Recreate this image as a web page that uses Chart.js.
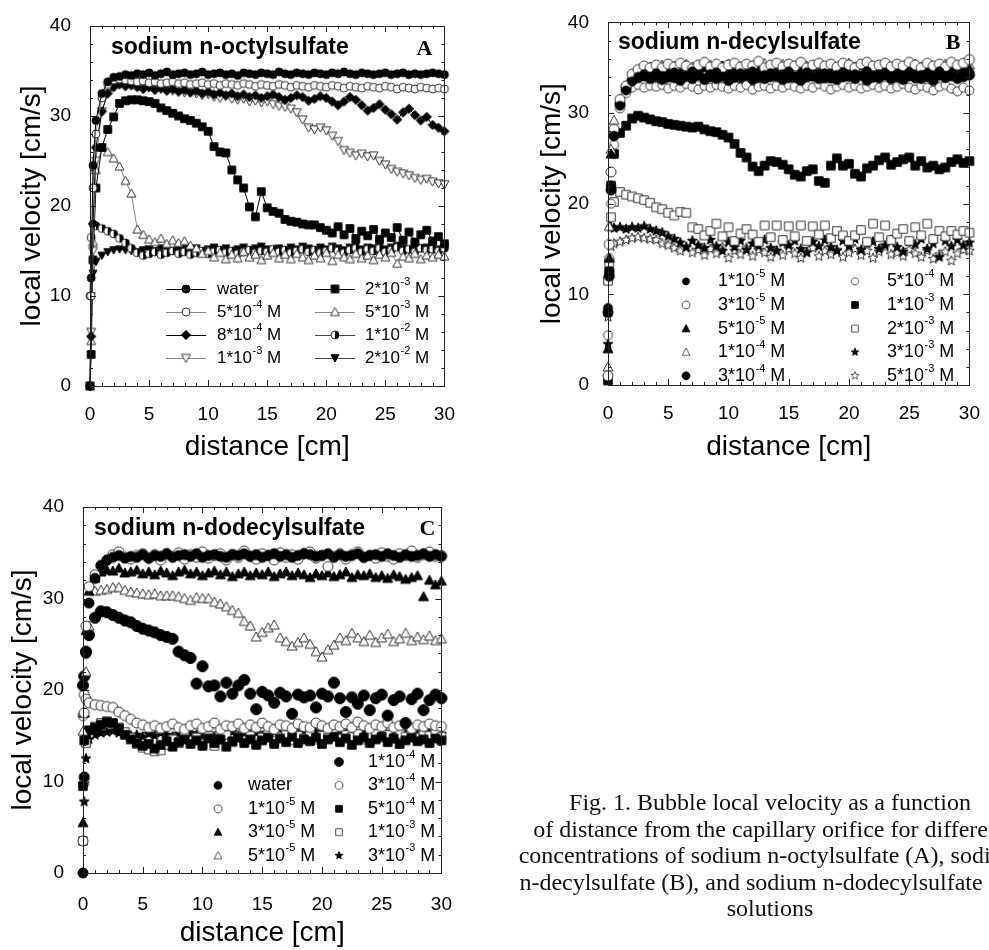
<!DOCTYPE html>
<html>
<head>
<meta charset="utf-8">
<script src="https://cdn.jsdelivr.net/npm/chart.js@4.4.1/dist/chart.umd.min.js"></script>
<style>
  html, body { margin: 0; padding: 0; background: #fff; }
  body { width: 989px; height: 950px; position: relative; overflow: hidden; }
  canvas { position: absolute; }
  #chartA { left: 0; top: 0; }
  #chartB { left: 518px; top: 0; }
  #chartC { left: 0; top: 480px; }
  #caption {
    position: absolute; left: 420px; top: 789px; width: 700px;
    text-align: center; white-space: nowrap; color: #111;
    font: 24px "Liberation Serif", "Times New Roman", serif; line-height: 26.5px;
  }
</style>
</head>
<body>
<canvas id="chartA" width="464" height="470"></canvas>
<canvas id="chartB" width="471" height="470"></canvas>
<canvas id="chartC" width="464" height="470"></canvas>
<div id="caption">Fig. 1. Bubble local velocity as a function<br>of distance from the capillary orifice for different<br>concentrations of sodium n-octylsulfate (A), sodium<br>n-decylsulfate (B), and sodium n-dodecylsulfate (C)<br>solutions</div>
<script>
// x positions shared by all panels (cm)
const distance = [0, 0.1, 0.25, 0.5, 1, 1.5, 2, 2.5, 3, 3.5,
  4, 4.5, 5, 5.5, 6, 6.5, 7, 7.5, 8, 8.5,
  9, 9.5, 10, 10.5, 11, 11.5, 12, 12.5, 13, 13.5,
  14, 14.5, 15, 15.5, 16, 16.5, 17, 17.5, 18, 18.5,
  19, 19.5, 20, 20.5, 21, 21.5, 22, 22.5, 23, 23.5,
  24, 24.5, 25, 25.5, 26, 26.5, 27, 27.5, 28, 28.5,
  29, 29.5, 30];

const xTickValues = [0, 5, 10, 15, 20, 25, 30];
const yTickValues = [0, 10, 20, 30, 40];
const xTitle = 'distance [cm]';
const yTitle = 'local velocity [cm/s]';

// ---- panel A: sodium n-octylsulfate ----
const labelsA = ['water', '5*10^-4 M', '8*10^-4 M', '1*10^-3 M', '2*10^-3 M', '5*10^-3 M', '1*10^-2 M', '2*10^-2 M'];
const aWater = [0, 12, 24.5, 29.5, 32.5, 33.8, 34.3, 34.4, 34.6, 34.5,
  34.7, 34.6, 34.8, 34.5, 34.7, 34.9, 34.6, 34.7, 34.8, 34.6,
  34.7, 34.9, 34.6, 34.7, 34.8, 34.6, 34.7, 34.5, 34.8, 34.7,
  34.6, 34.8, 34.7, 34.6, 34.9, 34.7, 34.6, 34.8, 34.7, 34.6,
  34.8, 34.7, 34.6, 34.8, 34.7, 34.9, 34.7, 34.6, 34.8, 34.7,
  34.6, 34.7, 34.8, 34.6, 34.7, 34.8, 34.6, 34.7, 34.6, 34.7,
  34.8, 34.7, 34.6];
const a5e4 = [0, 10, 22, 28, 32, 33.5, 34, 34.1, 34.0, 33.9,
  33.8, 33.9, 33.7, 33.8, 33.6, 33.7, 33.8, 33.6, 33.7, 33.5,
  33.6, 33.7, 33.5, 33.6, 33.4, 33.6, 33.5, 33.4, 33.6, 33.5,
  33.3, 33.5, 33.4, 33.3, 33.5, 33.4, 33.2, 33.4, 33.3, 33.2,
  33.4, 33.3, 33.2, 33.4, 33.3, 33.1, 33.3, 33.2, 33.1, 33.3,
  33.2, 33.1, 33.3, 33.2, 33.0, 33.2, 33.1, 33.0, 33.2, 33.1,
  33.0, 33.1, 33.0];
const a8e4 = [0, 5.5, 18, 26.5, 30.5, 32.5, 33.2, 33.5, 33.3, 33.4,
  33.2, 33.0, 33.2, 32.9, 33.1, 32.8, 33.0, 32.7, 32.9, 32.6,
  32.8, 32.5, 32.7, 32.4, 32.6, 32.3, 32.5, 32.2, 32.4, 32.1,
  32.3, 32.0, 32.2, 32.4, 32.1, 31.8, 32.0, 32.3, 32.1, 31.7,
  31.9, 32.2, 32.0, 31.6, 31.2, 31.6, 32.1, 31.8, 31.2, 30.6,
  30.9, 31.3, 30.7, 30.2, 29.6, 30.4, 30.8, 30.1, 29.5, 29.9,
  29.0, 28.7, 28.3];
const a1e3 = [0, 6, 15, 25, 30.5, 32.5, 33.3, 33.6, 33.8, 33.7,
  33.5, 33.4, 33.2, 33.3, 33.0, 32.9, 32.8, 32.9, 32.6, 32.7,
  32.5, 32.3, 32.4, 32.1, 32.0, 32.2, 31.9, 31.8, 31.9, 31.6,
  31.7, 31.5, 31.6, 31.3, 31.1, 31.0, 30.8, 30.4, 29.6, 28.7,
  28.5, 28.7, 28.4, 27.8, 27.2, 26.2, 25.9, 25.6, 25.8, 25.5,
  25.6, 25.0, 24.6, 24.1, 23.8, 23.6, 23.4, 23.1, 22.9, 23.0,
  22.7, 22.5, 22.4];
const a2e3 = [0, 3.5, 14, 22, 26.5, 28.5, 29.9, 31.4, 31.7, 31.8,
  31.8, 31.7, 31.6, 31.4, 30.9, 30.6, 30.3, 30.0, 29.7, 29.5,
  29.2, 28.8, 28.3, 26.6, 26.0, 25.9, 24.0, 22.9, 22.0, 19.9,
  18.8, 21.6, 19.8, 19.4, 19.2, 18.5, 18.3, 18.2, 18.0, 17.9,
  17.9, 17.6, 17.3, 17.0, 17.7, 16.8, 17.5, 16.4, 17.2, 16.7,
  17.4, 16.3, 17.0, 16.5, 17.6, 16.2, 17.1, 16.0, 16.8, 17.3,
  16.1, 16.6, 15.8];
const a5e3 = [0, 5, 16, 24, 26.5, 26.0, 25.3, 24.4, 22.8, 21.4,
  17.4, 16.8, 16.3, 16.0, 16.4, 15.8, 16.2, 15.9, 16.1, 15.6,
  15.3, 14.7, 15.0, 14.3, 14.8, 14.1, 14.6, 14.2, 14.9, 14.3,
  14.6, 14.0, 14.5, 14.8, 14.2, 14.6, 14.1, 14.7, 14.3, 14.0,
  14.5, 14.2, 14.8, 13.9, 14.6, 14.3, 14.1, 14.7, 14.2, 14.5,
  14.0, 14.6, 14.3, 14.8, 13.6, 14.4, 14.2, 14.7, 14.1, 14.5,
  14.3, 14.6, 14.4];
const a1e2 = [10, 16.5, 18.0, 17.8, 17.5, 17.2, 16.9, 16.4, 15.9, 15.3,
  14.8, 14.5, 14.7, 14.9, 14.6, 14.8, 15.0, 14.7, 14.9, 14.6,
  14.8, 15.0, 14.7, 14.9, 15.1, 14.8, 15.0, 14.7, 14.9, 15.1,
  14.8, 15.0, 14.9, 15.2, 14.9, 15.1, 14.8, 15.0, 15.2, 14.9,
  15.1, 14.8, 15.0, 15.3, 15.0, 14.8, 15.1, 15.3, 14.9, 15.2,
  15.0, 15.3, 14.9, 15.1, 15.4, 15.0, 15.2, 14.9, 15.3, 15.1,
  15.2, 15.0, 15.3];
const a2e2 = [0, 10, 12.5, 13.8, 14.5, 14.9, 15.1, 15.2, 15.1, 15.0,
  14.9, 15.1, 15.2, 15.0, 15.3, 15.1, 15.0, 15.2, 15.4, 15.1,
  15.3, 15.0, 15.2, 15.4, 15.1, 15.3, 15.0, 15.2, 15.4, 15.1,
  15.3, 15.5, 15.2, 15.0, 15.3, 15.1, 15.4, 15.2, 15.5, 15.3,
  15.1, 15.4, 15.2, 15.5, 15.3, 15.1, 15.4, 15.6, 15.2, 15.4,
  15.3, 15.5, 15.2, 15.4, 15.6, 15.3, 15.1, 15.5, 15.3, 15.4,
  15.6, 15.2, 15.4];

// ---- panel B: sodium n-decylsulfate ----
const labelsB = ['1*10^-5 M', '3*10^-5 M', '5*10^-5 M', '1*10^-4 M', '3*10^-4 M',
  '5*10^-4 M', '1*10^-3 M', '2*10^-3 M', '3*10^-3 M', '5*10^-3 M'];
const b1e5 = [8.5, 12.5, 22.0, 27.5, 30.8, 32.5, 33.5, 34.0, 34.3, 34.0,
  34.4, 34.1, 33.9, 34.5, 34.2, 34.0, 34.6, 34.1, 33.8, 34.3,
  34.5, 34.0, 34.2, 33.9, 34.4, 34.1, 34.6, 33.9, 34.2, 34.4,
  34.0, 34.3, 34.6, 33.9, 34.2, 34.5, 34.0, 34.1, 34.4, 33.8,
  34.2, 34.5, 34.0, 34.3, 34.1, 34.6, 33.9, 34.2, 34.4, 34.0,
  34.3, 34.1, 34.5, 33.8, 34.2, 34.4, 34.0, 34.6, 34.1, 34.3,
  34.0, 34.4, 34.2];
const b3e5 = [1, 15.5, 23.5, 28.2, 31.5, 33.0, 34.3, 34.8, 35.2, 35.0,
  35.3, 35.0, 35.4, 35.1, 35.5, 35.2, 34.9, 35.3, 35.6, 35.1,
  35.4, 35.0, 35.3, 35.5, 35.1, 35.4, 35.2, 35.7, 35.0, 35.3,
  35.5, 35.1, 35.4, 35.2, 35.6, 35.0, 35.3, 35.5, 35.2, 35.4,
  35.1, 35.5, 35.3, 35.0, 35.4, 35.6, 35.2, 35.3, 35.5, 35.1,
  35.4, 35.2, 35.6, 35.3, 35.0, 35.5, 35.2, 35.4, 35.1, 35.6,
  35.3, 35.5, 35.9];
const b5e5 = [4, 14, 25.5, 28, 31.5, 33.0, 34.0, 34.5, 34.7, 34.9,
  34.6, 35.0, 34.7, 34.9, 34.5, 35.1, 34.8, 34.6, 35.0, 34.7,
  34.9, 35.2, 34.6, 34.8, 35.0, 34.5, 34.9, 35.1, 34.7, 34.8,
  35.0, 34.6, 34.9, 35.2, 34.7, 34.8, 35.0, 34.5, 34.9, 35.1,
  34.7, 34.9, 35.0, 34.6, 35.2, 34.8, 34.7, 35.0, 34.9, 34.6,
  35.1, 34.8, 34.9, 35.0, 34.7, 35.2, 34.8, 34.9, 35.1, 34.7,
  35.0, 34.8, 34.9];
const b1e4 = [2, 17.5, 26, 29.2, 31.2, 32.8, 33.8, 34.6, 34.9, 35.1,
  35.0, 35.3, 34.9, 35.2, 35.0, 35.4, 35.1, 34.8, 35.2, 35.3,
  35.0, 35.2, 35.4, 34.9, 35.1, 35.3, 35.0, 35.2, 35.5, 35.0,
  35.2, 35.4, 35.1, 35.0, 35.3, 35.2, 34.9, 35.4, 35.1, 35.3,
  35.0, 35.2, 35.5, 35.1, 35.0, 35.3, 35.2, 34.9, 35.4, 35.1,
  35.3, 35.0, 35.2, 35.4, 35.1, 35.3, 35.0, 35.2, 35.4, 35.1,
  35.2, 35.5, 35.3];
const b3e4 = [8, 12, 21.5, 27.5, 31.0, 32.8, 33.6, 33.9, 34.1, 33.8,
  34.0, 33.7, 34.2, 33.9, 33.6, 34.1, 33.8, 34.3, 33.7, 34.0,
  33.8, 34.2, 33.6, 34.0, 33.9, 34.3, 33.7, 34.1, 33.8, 34.0,
  34.2, 33.7, 33.9, 34.1, 33.6, 34.0, 34.3, 33.8, 33.9, 34.2,
  33.7, 34.0, 34.1, 33.8, 34.3, 33.6, 34.0, 33.9, 34.2, 33.8,
  34.0, 33.7, 34.1, 34.3, 33.8, 34.0, 33.6, 34.2, 33.9, 34.1,
  33.8, 34.0, 34.2];
const b5e4 = [5.5, 14, 20, 26.5, 30.5, 32.2, 32.8, 33.1, 32.8, 33.0,
  32.9, 33.1, 32.7, 33.0, 32.8, 33.2, 32.9, 32.6, 33.0, 32.8,
  33.1, 32.9, 32.7, 33.0, 32.8, 33.1, 32.6, 32.9, 33.0, 32.7,
  33.0, 32.8, 33.1, 32.9, 32.7, 33.0, 32.8, 33.2, 32.9, 32.6,
  32.9, 33.1, 32.8, 33.0, 32.7, 32.9, 33.1, 32.8, 33.0, 32.7,
  32.9, 33.2, 32.8, 32.6, 33.0, 32.8, 32.5, 32.9, 33.1, 32.7,
  32.4, 32.8, 32.5];
const b1e3 = [0.5, 12.5, 22, 25.5, 27.8, 28.6, 29.4, 29.7, 29.5, 29.3,
  29.1, 29.0, 28.8, 28.7, 28.6, 28.5, 28.4, 28.5, 28.2, 28.0,
  27.9, 27.6, 27.3, 26.6, 25.6, 25.1, 24.1, 23.6, 24.2, 24.7,
  24.6, 24.3, 23.8, 23.2, 23.0, 23.6, 23.8, 22.5, 22.3, 24.2,
  25.0, 24.2, 24.4, 23.3, 23.0, 23.9, 24.2, 24.8, 25.1, 24.3,
  24.6, 24.9, 25.1, 24.2, 24.7, 24.0, 24.2, 23.8, 24.0, 24.6,
  24.9, 24.5, 24.7];
const b2e3 = [11.5, 13.5, 18.5, 20.2, 21.3, 21.0, 20.8, 20.6, 20.4, 20.1,
  19.6, 19.4, 19.0, 18.7, 19.1, 19.0, 17.4, 17.2, 16.5, 17.0,
  17.8, 16.4, 17.4, 15.9, 16.7, 17.2, 16.6, 15.8, 17.6, 16.3,
  17.6, 16.0, 17.5, 16.4, 17.6, 15.9, 17.5, 16.6, 17.6, 16.2,
  17.0, 16.5, 15.9, 16.5, 17.1, 15.8, 17.8, 16.3, 17.6, 16.0,
  16.7, 17.2, 15.9, 17.4, 16.5, 17.8, 16.1, 17.0, 16.4, 17.0,
  16.6, 17.0, 16.8];
const b3e3 = [4.5, 12, 17.4, 17.3, 17.4, 17.2, 17.4, 17.3, 17.5, 17.2,
  17.0, 16.8, 16.4, 16.1, 15.7, 15.2, 15.9, 15.4, 15.1, 16.0,
  15.3, 14.8, 15.8, 15.2, 15.9, 14.9, 15.6, 15.3, 16.0, 15.1,
  14.8, 15.7, 15.4, 15.9, 15.0, 14.6, 15.8, 15.3, 16.0, 15.2,
  14.8, 15.9, 15.3, 16.1, 14.9, 15.6, 15.8, 15.0, 15.4, 16.0,
  15.2, 14.7, 15.8, 15.5, 16.1, 15.0, 15.6, 14.1, 15.9, 15.3,
  16.0, 15.4, 15.7];
const b5e3 = [7.5, 13.5, 15.3, 15.6, 15.8, 16.0, 16.2, 16.3, 16.2, 16.1,
  16.0, 15.6, 15.4, 15.1, 14.8, 15.2, 14.6, 14.9, 14.3, 15.0,
  14.5, 15.2, 14.0, 14.8, 14.4, 15.1, 14.2, 14.9, 14.6, 14.1,
  14.8, 14.3, 15.0, 14.5, 14.0, 14.7, 15.1, 14.2, 14.8, 14.4,
  14.9, 14.1, 14.6, 15.0, 14.3, 14.8, 14.0, 14.7, 15.2, 14.4,
  14.6, 14.2, 14.9, 14.5, 14.1, 14.8, 13.9, 14.4, 14.7, 13.7,
  14.5, 14.9, 14.8];

// ---- panel C: sodium n-dodecylsulfate ----
const labelsC = ['water', '1*10^-5 M', '3*10^-5 M', '5*10^-5 M',
  '1*10^-4 M', '3*10^-4 M', '5*10^-4 M', '1*10^-3 M', '3*10^-3 M'];
const cWater = [0, 10.5, 24, 29.5, 32.2, 33.6, 34.2, 34.5, 34.7, 34.4,
  34.6, 34.5, 34.8, 34.4, 34.7, 34.6, 34.9, 34.5, 34.7, 34.8,
  34.6, 34.9, 34.5, 34.7, 34.8, 34.6, 34.5, 34.8, 34.7, 34.9,
  34.6, 34.8, 34.5, 34.7, 34.9, 34.6, 34.8, 34.5, 34.7, 34.9,
  34.8, 34.6, 34.7, 34.9, 34.5, 34.8, 34.6, 34.7, 34.9, 34.5,
  34.7, 34.8, 34.6, 34.9, 34.7, 34.5, 34.8, 34.6, 34.7, 34.9,
  34.6, 34.8, 34.6];
const c1e5 = [3.5, 17.5, 27, 31.3, 32.6, 33.6, 34.2, 34.8, 35.1, 34.5,
  34.3, 34.7, 34.9, 34.4, 34.8, 34.2, 34.9, 34.6, 35.0, 34.3,
  34.8, 34.5, 35.1, 34.4, 34.7, 34.9, 34.2, 34.8, 34.5, 35.2,
  34.6, 34.3, 34.9, 34.7, 34.2, 35.0, 34.5, 34.8, 34.3, 34.9,
  35.1, 34.4, 34.7, 33.5, 34.6, 34.9, 34.3, 34.8, 35.1, 34.5,
  34.7, 34.4, 35.0, 34.6, 34.3, 34.9, 34.7, 35.2, 34.5, 34.8,
  35.1, 34.6, 34.7];
const c3e5 = [5.5, 17.5, 26.5, 30.8, 32.2, 32.9, 33.1, 33.0, 33.3, 32.8,
  32.9, 33.1, 32.7, 32.9, 32.6, 33.0, 32.8, 32.5, 32.9, 33.1,
  32.7, 32.9, 32.5, 32.8, 33.0, 32.6, 32.9, 32.4, 32.7, 32.9,
  32.5, 32.8, 32.6, 32.9, 32.4, 32.7, 32.9, 32.5, 32.8, 32.6,
  32.3, 32.7, 32.5, 32.8, 32.4, 32.6, 32.9, 32.3, 32.6, 32.5,
  32.7, 32.3, 32.5, 32.2, 32.6, 32.4, 32.1, 32.3, 32.5, 30.2,
  32.0, 31.5, 31.9];
const c5e5 = [15.5, 17.5, 22, 27, 30.8, 30.9, 31.0, 31.2, 31.2, 30.9,
  30.7, 30.6, 30.5, 30.4, 30.5, 30.3, 30.3, 30.3, 30.2, 30.0,
  29.8, 30.1, 30.0, 30.0, 29.6, 29.4, 29.1, 28.7, 28.4, 27.5,
  27.0, 25.8, 26.3, 26.8, 27.1, 25.7, 25.3, 24.8, 25.2, 25.7,
  25.0, 24.2, 23.6, 24.4, 24.9, 25.7, 25.4, 26.2, 25.7, 25.3,
  26.0, 25.2, 25.7, 26.1, 25.3, 25.6, 26.2, 25.4, 25.8, 25.5,
  25.9, 25.4, 25.6];
const c1e4 = [20.5, 21.5, 24.2, 26.0, 27.9, 28.6, 28.5, 28.2, 27.9, 27.6,
  27.4, 27.0, 26.7, 26.5, 26.3, 26.0, 25.8, 25.6, 24.2, 23.8,
  23.5, 20.7, 22.6, 20.4, 20.5, 19.3, 20.8, 19.6, 20.5, 21.1,
  19.6, 17.9, 19.8, 19.4, 18.6, 19.7, 19.3, 17.4, 19.5, 19.2,
  19.4, 18.1, 19.6, 19.3, 20.8, 19.1, 17.6, 19.2, 18.5, 19.4,
  17.8, 19.1, 19.5, 17.2, 18.9, 19.3, 16.4, 19.0, 19.6, 17.8,
  18.9, 19.5, 19.1];
const c3e4 = [17.2, 19.5, 19.0, 18.6, 18.4, 18.3, 18.2, 18.1, 17.6, 17.2,
  16.8, 16.4, 16.2, 15.9, 16.1, 15.8, 16.0, 16.3, 15.9, 15.7,
  16.1, 16.3, 15.8, 16.0, 16.4, 15.7, 16.1, 16.0, 16.3, 15.8,
  16.2, 15.9, 16.4, 16.0, 15.7, 16.2, 16.1, 15.8, 16.3, 16.0,
  15.9, 16.4, 16.1, 15.8, 16.2, 16.0, 16.3, 15.9, 16.5, 16.1,
  15.8, 16.2, 16.0, 16.4, 15.9, 16.1, 16.3, 15.8, 16.2, 16.0,
  16.3, 16.1, 16.0];
const c5e4 = [9.5, 14.5, 15.2, 15.6, 15.9, 16.2, 16.5, 16.4, 15.8, 15.1,
  14.6, 14.2, 13.9, 14.1, 13.6, 14.0, 14.4, 13.8, 14.3, 14.6,
  14.1, 14.5, 13.9, 14.7, 14.2, 14.6, 13.8, 14.4, 14.8, 14.2,
  14.6, 14.0, 14.5, 14.8, 14.1, 14.7, 14.3, 14.9, 14.2, 14.6,
  14.4, 14.8, 14.1, 14.6, 14.9, 14.3, 14.7, 14.0, 14.5, 14.8,
  14.2, 14.6, 14.9, 14.3, 14.7, 14.1, 14.5, 14.8, 14.4, 14.6,
  14.2, 14.7, 14.5];
const c1e3 = [3.5, 10, 14.2, 15.3, 16.0, 16.4, 16.6, 16.3, 15.9, 15.4,
  14.8, 14.1, 13.7, 13.5, 13.3, 13.4, 14.0, 14.6, 14.2, 15.0,
  14.4, 14.8, 14.1, 15.0, 13.9, 14.6, 15.1, 14.3, 14.9, 14.5,
  15.0, 14.2, 14.8, 15.2, 14.4, 14.9, 15.1, 14.5, 15.0, 14.7,
  15.2, 14.6, 15.0, 14.8, 15.3, 14.7, 15.1, 14.9, 15.2, 14.6,
  15.0, 15.3, 14.8, 15.1, 14.7, 15.2, 14.9, 15.3, 14.8, 15.1,
  15.0, 15.2, 14.9];
const c3e3 = [0, 7.8, 12.5, 14.6, 15.1, 15.3, 15.4, 15.5, 15.3, 15.2,
  15.0, 15.1, 14.9, 15.2, 15.0, 15.3, 15.1, 14.9, 15.2, 15.0,
  15.3, 15.1, 15.0, 15.2, 14.9, 15.3, 15.1, 15.4, 15.0, 15.2,
  15.1, 15.3, 15.0, 15.2, 15.4, 15.1, 15.3, 15.0, 15.2, 15.4,
  15.1, 15.3, 15.5, 15.2, 15.0, 15.4, 15.2, 15.5, 15.1, 15.3,
  15.4, 15.2, 15.5, 15.1, 15.3, 15.6, 15.2, 15.4, 15.1, 15.5,
  15.3, 15.4, 15.2];

const SANS = '"Liberation Sans", Arial, sans-serif';
const SERIF = '"Liberation Serif", "Times New Roman", serif';

// marker glyphs drawn once into small canvases, used as Chart.js pointStyle
function marker(shape, filled, size) {
  const pad = 2;
  const dim = Math.ceil(size * 1.2) + pad * 2;
  const c = document.createElement('canvas');
  c.width = dim;
  c.height = dim;
  const g = c.getContext('2d');
  const m = dim / 2, r = size / 2;
  g.lineWidth = 1;
  g.strokeStyle = filled ? '#000' : '#333';
  g.fillStyle = filled ? '#000' : '#fff';
  g.beginPath();
  if (shape === 'circle' || shape === 'half') {
    g.arc(m, m, r, 0, Math.PI * 2);
  } else if (shape === 'square') {
    g.rect(m - r * 0.85, m - r * 0.85, r * 1.7, r * 1.7);
  } else if (shape === 'diamond') {
    const d = r * 1.15;
    g.moveTo(m, m - d); g.lineTo(m + d, m); g.lineTo(m, m + d); g.lineTo(m - d, m);
    g.closePath();
  } else if (shape === 'up') {
    g.moveTo(m, m - r); g.lineTo(m + r, m + r * 0.8); g.lineTo(m - r, m + r * 0.8);
    g.closePath();
  } else if (shape === 'down') {
    g.moveTo(m, m + r); g.lineTo(m + r, m - r * 0.8); g.lineTo(m - r, m - r * 0.8);
    g.closePath();
  } else if (shape === 'star') {
    for (let k = 0; k < 10; k++) {
      const ang = -Math.PI / 2 + k * Math.PI / 5;
      const rr = k % 2 ? r * 0.45 : r * 1.05;
      const px = m + rr * Math.cos(ang), py = m + rr * Math.sin(ang);
      if (k) g.lineTo(px, py); else g.moveTo(px, py);
    }
    g.closePath();
  }
  g.fill();
  g.stroke();
  if (shape === 'half') {
    g.beginPath();
    g.arc(m, m, r, -Math.PI / 2, Math.PI / 2);
    g.closePath();
    g.fillStyle = '#000';
    g.fill();
  }
  return c;
}

function series(ys, label, mk, lineColor) {
  return {
    label,
    data: distance.map((x, i) => ({ x, y: ys[i] })),
    pointStyle: mk,
    pointRadius: 4,
    showLine: !!lineColor,
    borderColor: lineColor || 'transparent',
    backgroundColor: 'transparent',
    borderWidth: 1,
    tension: 0,
    clip: 8
  };
}

// frame with inward major/minor ticks on all four sides
const frameTicks = {
  id: 'frameTicks',
  afterDatasetsDraw(chart, args, o) {
    const { ctx, chartArea: a } = chart;
    const sx = chart.scales.x, sy = chart.scales.y;
    ctx.save();
    ctx.lineWidth = 1;
    ctx.strokeStyle = '#222';
    ctx.beginPath();
    for (let v = sx.min; v <= sx.max + 1e-9; v += o.xMinor) {
      const px = Math.round(sx.getPixelForValue(v)) + 0.5;
      const len = Math.abs(v % o.xMajor) < 1e-9 ? o.major : o.minor;
      ctx.moveTo(px, a.bottom); ctx.lineTo(px, a.bottom - len);
      ctx.moveTo(px, a.top); ctx.lineTo(px, a.top + len);
    }
    for (let v = sy.min; v <= sy.max + 1e-9; v += o.yMinor) {
      const py = Math.round(sy.getPixelForValue(v)) + 0.5;
      const len = Math.abs(v % o.yMajor) < 1e-9 ? o.major : o.minor;
      ctx.moveTo(a.left, py); ctx.lineTo(a.left + len, py);
      ctx.moveTo(a.right, py); ctx.lineTo(a.right - len, py);
    }
    ctx.stroke();
    ctx.strokeRect(Math.round(a.left) + 0.5, Math.round(a.top) + 0.5,
      Math.round(a.right - a.left), Math.round(a.bottom - a.top));
    ctx.restore();
  }
};

// compound name inside the plot and the panel letter
const panelText = {
  id: 'panelText',
  afterDraw(chart, args, o) {
    const { ctx, chartArea: a } = chart;
    ctx.save();
    ctx.fillStyle = '#000';
    ctx.textBaseline = 'alphabetic';
    ctx.textAlign = 'left';
    ctx.font = 'bold 23px ' + SANS;
    ctx.fillText(o.title, a.left + o.titleDx, a.top + o.titleDy);
    ctx.textAlign = 'right';
    ctx.font = 'bold 22px ' + SERIF;
    ctx.fillText(o.letter, a.right + o.letterDx, a.top + o.letterDy);
    ctx.restore();
  }
};

function drawLabel(ctx, label, x, y, size) {
  const font = px => px + 'px ' + SANS;
  ctx.fillStyle = '#000';
  ctx.textAlign = 'left';
  ctx.textBaseline = 'middle';
  ctx.font = font(size);
  const m = label.match(/^(.*?)\^(\S+)(.*)$/);
  if (!m) { ctx.fillText(label, x, y); return; }
  ctx.fillText(m[1], x, y);
  let cx = x + ctx.measureText(m[1]).width + 0.5;
  ctx.font = font(Math.round(size * 0.62));
  ctx.fillText(m[2], cx, y - size * 0.4);
  cx += ctx.measureText(m[2]).width;
  ctx.font = font(size);
  ctx.fillText(m[3], cx, y);
}

// legend laid out in columns inside the plot area
const panelLegend = {
  id: 'panelLegend',
  afterDraw(chart, args, o) {
    const { ctx, chartArea: a } = chart;
    ctx.save();
    o.items.forEach(([di, col, row]) => {
      const ds = chart.data.datasets[di];
      const mx = a.left + o.markerX[col];
      const ty = a.top + o.y0 + row * o.rowH;
      if (ds.showLine) {
        ctx.strokeStyle = ds.borderColor;
        ctx.lineWidth = 1;
        ctx.beginPath();
        ctx.moveTo(mx - o.lineHalf, ty + 0.5);
        ctx.lineTo(mx + o.lineHalf, ty + 0.5);
        ctx.stroke();
      }
      const img = ds.pointStyle;
      const w = img.width * o.markScale, h = img.height * o.markScale;
      ctx.drawImage(img, mx - w / 2, ty - h / 2, w, h);
      drawLabel(ctx, ds.label, a.left + o.textX[col], ty, o.fontSize);
    });
    ctx.restore();
  }
};

function makeChart(id, datasets, p) {
  return new Chart(document.getElementById(id), {
    type: 'scatter',
    data: { datasets },
    plugins: [frameTicks, panelText, panelLegend],
    options: {
      responsive: false,
      animation: false,
      events: [],
      layout: { padding: p.padding },
      plugins: {
        legend: { display: false },
        tooltip: { enabled: false },
        frameTicks: { xMinor: 1, xMajor: 5, yMinor: 2, yMajor: 10, major: 6, minor: 3 },
        panelText: p.text,
        panelLegend: p.legend
      },
      scales: {
        x: {
          type: 'linear', min: 0, max: 30,
          afterBuildTicks: s => { s.ticks = xTickValues.map(value => ({ value })); },
          afterFit: s => { s.height = p.xHeight; },
          grid: { display: false },
          border: { display: false },
          ticks: { font: { family: SANS, size: 19 }, color: '#000', padding: p.xTickPad, maxRotation: 0 },
          title: { display: true, text: xTitle, color: '#000', font: { family: SANS, size: 28 },
            padding: { top: 0, bottom: p.xTitlePad } }
        },
        y: {
          type: 'linear', min: 0, max: 40,
          afterBuildTicks: s => { s.ticks = yTickValues.map(value => ({ value })); },
          afterFit: s => { s.width = p.yWidth; },
          grid: { display: false },
          border: { display: false },
          ticks: { font: { family: SANS, size: 19 }, color: '#000', padding: 11 },
          title: { display: true, text: yTitle, color: '#000', font: { family: SANS, size: 28 },
            padding: { top: p.yTitlePad, bottom: 0 } }
        }
      }
    }
  });
}

// panel A
const dsA = [
  series(aWater, labelsA[0], marker('circle', true, 8), '#000'),
  series(a5e4, labelsA[1], marker('circle', false, 8), '#888'),
  series(a8e4, labelsA[2], marker('diamond', true, 8), '#000'),
  series(a1e3, labelsA[3], marker('down', false, 9), '#888'),
  series(a2e3, labelsA[4], marker('square', true, 9), '#000'),
  series(a5e3, labelsA[5], marker('up', false, 9), '#888'),
  series(a1e2, labelsA[6], marker('half', false, 8), '#444'),
  series(a2e2, labelsA[7], marker('down', true, 8), '#444')
];
makeChart('chartA', dsA, {
  padding: { left: 0, top: 26, right: 14, bottom: 0 },
  xHeight: 84, yWidth: 90, xTickPad: 9, xTitlePad: 6, yTitlePad: 15,
  text: { title: 'sodium n-octylsulfate', titleDx: 21, titleDy: 28, letter: 'A', letterDx: -12, letterDy: 29 },
  legend: {
    markerX: [96, 245], textX: [127, 275], y0: 263, rowH: 23, lineHalf: 20, markScale: 1, fontSize: 17,
    items: [[0, 0, 0], [1, 0, 1], [2, 0, 2], [3, 0, 3], [4, 1, 0], [5, 1, 1], [6, 1, 2], [7, 1, 3]]
  }
});

// panel B
const dsB = [
  series(b1e5, labelsB[0], marker('circle', true, 9)),
  series(b3e5, labelsB[1], marker('circle', false, 10)),
  series(b5e5, labelsB[2], marker('up', true, 10)),
  series(b1e4, labelsB[3], marker('up', false, 10)),
  series(b3e4, labelsB[4], marker('circle', true, 10)),
  series(b5e4, labelsB[5], marker('circle', false, 9)),
  series(b1e3, labelsB[6], marker('square', true, 10)),
  series(b2e3, labelsB[7], marker('square', false, 10)),
  series(b3e3, labelsB[8], marker('star', true, 10)),
  series(b5e3, labelsB[9], marker('star', false, 10))
];
makeChart('chartB', dsB, {
  padding: { left: 0, top: 18, right: 12, bottom: 0 },
  xHeight: 85, yWidth: 90, xTickPad: 9, xTitlePad: 6, yTitlePad: 17,
  text: { title: 'sodium n-decylsulfate', titleDx: 10, titleDy: 27, letter: 'B', letterDx: -9, letterDy: 27 },
  legend: {
    markerX: [78, 247], textX: [110, 279], y0: 259, rowH: 23.6, lineHalf: 0, markScale: 0.8, fontSize: 18,
    items: [[0, 0, 0], [1, 0, 1], [2, 0, 2], [3, 0, 3], [4, 0, 4],
      [5, 1, 0], [6, 1, 1], [7, 1, 2], [8, 1, 3], [9, 1, 4]]
  }
});

// panel C
const dsC = [
  series(cWater, labelsC[0], marker('circle', true, 10)),
  series(c1e5, labelsC[1], marker('circle', false, 10)),
  series(c3e5, labelsC[2], marker('up', true, 10)),
  series(c5e5, labelsC[3], marker('up', false, 10)),
  series(c1e4, labelsC[4], marker('circle', true, 11)),
  series(c3e4, labelsC[5], marker('circle', false, 10)),
  series(c5e4, labelsC[6], marker('square', true, 10)),
  series(c1e3, labelsC[7], marker('square', false, 10)),
  series(c3e3, labelsC[8], marker('star', true, 10))
];
makeChart('chartC', dsC, {
  padding: { left: 0, top: 27, right: 21, bottom: 0 },
  xHeight: 77, yWidth: 83, xTickPad: 12, xTitlePad: 0, yTitlePad: 6,
  text: { title: 'sodium n-dodecylsulfate', titleDx: 11, titleDy: 28, letter: 'C', letterDx: -6, letterDy: 28 },
  legend: {
    markerX: [135, 256], textX: [165, 285], y0: 255, rowH: 23.4, lineHalf: 0, markScale: 0.8, fontSize: 18,
    items: [[0, 0, 1], [1, 0, 2], [2, 0, 3], [3, 0, 4],
      [4, 1, 0], [5, 1, 1], [6, 1, 2], [7, 1, 3], [8, 1, 4]]
  }
});
</script>
</body>
</html>
